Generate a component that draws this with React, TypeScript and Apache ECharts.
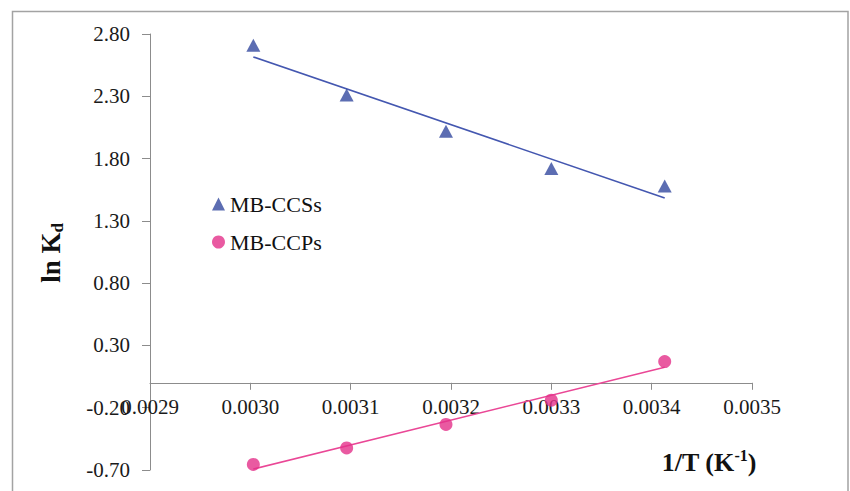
import React, { useEffect, useRef } from "react";
import * as echarts from "echarts";

// 1/T (K^-1) for each run
const invT = [0.003003, 0.003096, 0.003195, 0.0033, 0.003413];
// ln Kd for each adsorbent
const lnKdCCSs = [2.71, 2.31, 2.02, 1.72, 1.58];
const lnKdCCPs = [-0.655, -0.523, -0.334, -0.14, 0.17];

const seriesNames = ["MB-CCSs", "MB-CCPs"];
const yTicks = [-0.7, -0.2, 0.3, 0.8, 1.3, 1.8, 2.3, 2.8];
const xTicks = [0.0029, 0.003, 0.0031, 0.0032, 0.0033, 0.0034, 0.0035];
const Y_MIN = -0.7;
const Y_MAX = 2.8;

const BLUE = "#33489f";
const BLUE_LINE = "#4457b0";
const PINK = "#e3318a";
const PINK_LINE = "#ea4796";
const FONT = "Liberation Serif";

const GRID_TOP = 34;
const GRID_BOTTOM = 21;
const CHART_H = 491;

// least-squares line through the points, spanning the measured range
function trend(xs: number[], ys: number[]): number[][] {
  const n = xs.length;
  const mx = xs.reduce((a, b) => a + b, 0) / n;
  const my = ys.reduce((a, b) => a + b, 0) / n;
  let sxy = 0;
  let sxx = 0;
  for (let i = 0; i < n; i++) {
    sxy += (xs[i] - mx) * (ys[i] - my);
    sxx += (xs[i] - mx) * (xs[i] - mx);
  }
  const b = sxy / sxx;
  const a = my - b * mx;
  const x0 = Math.min(...xs);
  const x1 = Math.max(...xs);
  return [
    [x0, a + b * x0],
    [x1, a + b * x1],
  ];
}

export default function App() {
  const ref = useRef<HTMLDivElement>(null);

  useEffect(() => {
    if (!ref.current) return;
    const chart = echarts.init(ref.current, null, { renderer: "svg" });
    const axisColor = "#8c8c8c";
    const labelStyle = {
      fontFamily: FONT,
      fontSize: 21,
      color: "#1a1a1a",
    };

    // the horizontal axis (with its labels) sits on the ln Kd = 0 line
    const plotH = CHART_H - GRID_TOP - GRID_BOTTOM;
    const zeroOffset = -(0 - Y_MIN) / (Y_MAX - Y_MIN) * plotH;

    chart.setOption({
      animation: false,
      backgroundColor: "#ffffff",
      grid: {
        left: 150,
        right: 98,
        top: GRID_TOP,
        bottom: GRID_BOTTOM,
        containLabel: false,
        outerBoundsMode: "none",
      },
      legend: {
        data: seriesNames.map((name, i) => ({
          name,
          icon: i === 0 ? "triangle" : "circle",
        })),
        orient: "vertical",
        left: 207,
        top: 188,
        itemWidth: 13,
        itemHeight: 13,
        itemGap: 16,
        textStyle: { fontFamily: FONT, fontSize: 22, color: "#111", lineHeight: 22 },
      },
      xAxis: {
        type: "value",
        min: 0.0029,
        max: 0.0035,
        position: "bottom",
        offset: zeroOffset,
        axisLine: { onZero: false, lineStyle: { color: axisColor, width: 1 } },
        axisTick: {
          show: true,
          length: 7,
          customValues: xTicks,
          lineStyle: { color: axisColor },
        },
        axisLabel: {
          ...labelStyle,
          margin: 14,
          customValues: xTicks,
          formatter: (v: number) => v.toFixed(4),
        },
        splitLine: { show: false },
      },
      yAxis: {
        type: "value",
        min: Y_MIN,
        max: Y_MAX,
        axisLine: { show: true, onZero: false, lineStyle: { color: axisColor, width: 1 } },
        axisTick: {
          show: true,
          length: 8,
          customValues: yTicks,
          lineStyle: { color: axisColor },
        },
        axisLabel: {
          ...labelStyle,
          margin: 20,
          customValues: yTicks,
          formatter: (v: number) => v.toFixed(2),
        },
        splitLine: { show: false },
      },
      series: [
        {
          name: seriesNames[0],
          type: "scatter",
          symbol: "triangle",
          symbolSize: [14, 13],
          itemStyle: { color: BLUE },
          data: invT.map((x, i) => [x, lnKdCCSs[i]]),
          z: 3,
        },
        {
          name: seriesNames[1],
          type: "scatter",
          symbol: "circle",
          symbolSize: 13,
          itemStyle: { color: PINK },
          data: invT.map((x, i) => [x, lnKdCCPs[i]]),
          z: 3,
        },
        {
          type: "line",
          showSymbol: false,
          silent: true,
          lineStyle: { color: BLUE_LINE, width: 1.6 },
          data: trend(invT, lnKdCCSs),
          z: 2,
        },
        {
          type: "line",
          showSymbol: false,
          silent: true,
          lineStyle: { color: PINK_LINE, width: 1.6 },
          data: trend(invT, lnKdCCPs),
          z: 2,
        },
      ],
      graphic: [
        {
          type: "rect",
          shape: { x: 12.5, y: 11.5, width: 835.5, height: 600 },
          style: { fill: "none", stroke: "#a3a3a3", lineWidth: 1.5 },
          silent: true,
        },
        {
          type: "text",
          x: 51,
          y: 253,
          rotation: Math.PI / 2,
          style: {
            text: "{a|ln K}{b|d}",
            align: "center",
            verticalAlign: "middle",
            rich: {
              a: { fontFamily: FONT, fontWeight: "bold", fontSize: 27, lineHeight: 30, fill: "#111", verticalAlign: "middle" },
              b: { fontFamily: FONT, fontWeight: "bold", fontSize: 17, lineHeight: 17, fill: "#111", verticalAlign: "bottom" },
            },
          },
        },
        {
          type: "text",
          x: 709,
          y: 462,
          style: {
            text: "{a|1/T (K}{s|-1}{a|)}",
            align: "center",
            verticalAlign: "middle",
            rich: {
              a: { fontFamily: FONT, fontWeight: "bold", fontSize: 26, lineHeight: 30, fill: "#111", verticalAlign: "middle" },
              s: { fontFamily: FONT, fontWeight: "bold", fontSize: 16, lineHeight: 16, fill: "#111", verticalAlign: "top" },
            },
          },
        },
      ],
    });

    return () => chart.dispose();
  }, []);

  return (
    <div
      ref={ref}
      style={{ position: "fixed", left: 0, top: 0, width: 850, height: 491 }}
    />
  );
}
